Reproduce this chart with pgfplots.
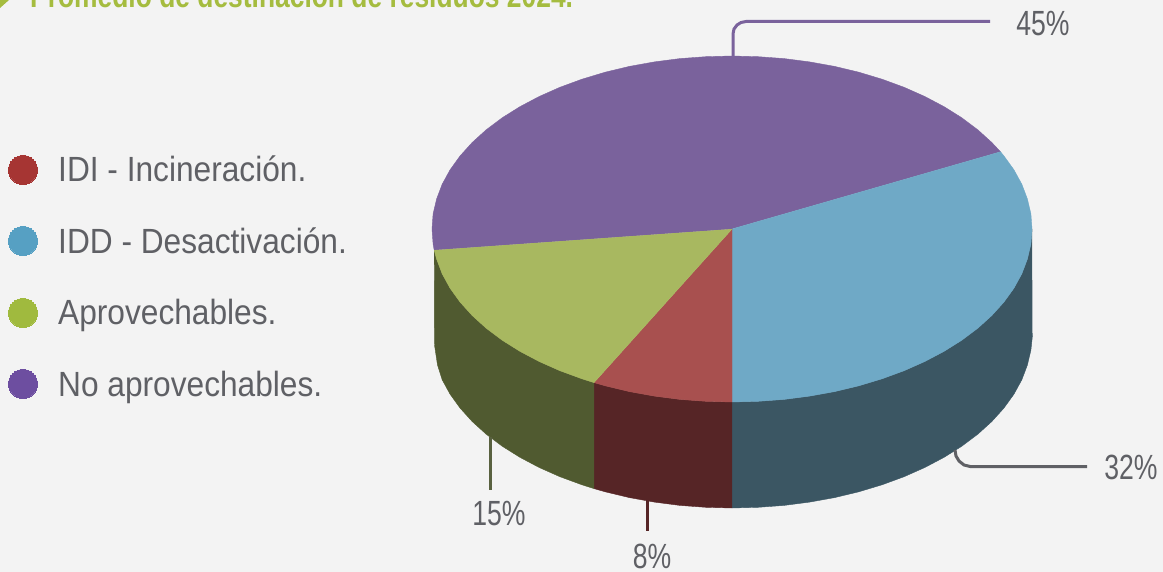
\documentclass[border=0pt]{standalone}
\usepackage{pgfplots}
\pgfplotsset{compat=1.18}
\usepackage{fontspec}
\setmainfont[FakeStretch=0.905]{Liberation Sans}
\newfontfamily\labf[FakeStretch=0.76]{Liberation Sans}
\newfontfamily\ttlf[FakeStretch=0.8]{Liberation Sans}
\definecolor{bgc}{HTML}{F3F3F3}
\definecolor{txt}{HTML}{5F6065}
\definecolor{ttl}{HTML}{A5BC3F}
\definecolor{topP}{HTML}{7A629C}
\definecolor{topB}{HTML}{6FA9C6}
\definecolor{topG}{HTML}{A8B860}
\definecolor{topR}{HTML}{A8504F}
\definecolor{sideB}{HTML}{3B5663}
\definecolor{sideR}{HTML}{562526}
\definecolor{sideG}{HTML}{505A30}
\definecolor{legR}{HTML}{A63533}
\definecolor{legB}{HTML}{56A0C3}
\definecolor{legG}{HTML}{A0BA3E}
\definecolor{legP}{HTML}{6D4EA0}
\tikzset{
  lab/.style={anchor=base, text=txt, font=\labf\fontsize{35}{40}\selectfont, inner sep=0pt},
  leg/.style={anchor=base west, text=txt, font=\fontsize{35}{40}\selectfont, inner sep=0pt},
}
\begin{document}
\begin{tikzpicture}
\begin{axis}[
  scale only axis, width=1163pt, height=572pt,
  xmin=0, xmax=1163, ymin=0, ymax=572, y dir=reverse,
  hide axis, clip mode=global,
]
\addplot[fill=bgc, draw=none] coordinates {(0,0)(1163,0)(1163,572)(0,572)};
% side walls
\addplot[fill=sideB, draw=sideB, line width=.4pt] coordinates {(1032,229)(1030.9,244.1)(1027.4,259)(1021.8,273.8)(1013.9,288.2)(1003.9,302.1)(991.8,315.5)(977.8,328.2)(961.8,340.2)(944.1,351.3)(924.8,361.5)(904.1,370.7)(882,378.8)(858.8,385.8)(834.6,391.6)(809.6,396.1)(784.1,399.4)(758.2,401.3)(732,402)(732,508)(758.2,507.3)(784.1,505.4)(809.6,502.1)(834.6,497.6)(858.8,491.8)(882,484.8)(904.1,476.7)(924.8,467.5)(944.1,457.3)(961.8,446.2)(977.8,434.2)(991.8,421.5)(1003.9,408.1)(1013.9,394.2)(1021.8,379.8)(1027.4,365)(1030.9,350.1)(1032.5,335)};
\addplot[fill=sideR, draw=sideR, line width=.4pt] coordinates {(732,402)(705.8,401.3)(679.9,399.4)(654.4,396.1)(629.4,391.6)(605.2,385.8)(594,382.6)(594,488.6)(605.2,491.8)(629.4,497.6)(654.4,502.1)(679.9,505.4)(705.8,507.3)(732,508)};
\addplot[fill=sideG, draw=sideG, line width=.4pt] coordinates {(594,382.6)(582,378.8)(559.9,370.7)(539.2,361.5)(519.9,351.3)(502.2,340.2)(486.2,328.2)(472.2,315.5)(460.1,302.1)(450.1,288.2)(442.2,273.8)(436.6,259)(434.2,250.1)(434.5,345)(437.5,365)(442.2,379.8)(450.1,394.2)(460.1,408.1)(472.2,421.5)(486.2,434.2)(502.2,446.2)(519.9,457.3)(539.2,467.5)(559.9,476.7)(582,484.8)(594,488.6)};
% top slices
\addplot[fill=topP, draw=topP, line width=.4pt] coordinates {(732,229)(434.2,250.1)(433.1,244.1)(432,229)(433.1,213.9)(436.6,199)(442.2,184.2)(450.1,169.8)(460.1,155.9)(472.2,142.5)(486.2,129.8)(502.2,117.8)(519.9,106.7)(539.2,96.5)(559.9,87.3)(582,79.2)(605.2,72.2)(629.4,66.4)(654.4,61.9)(679.9,58.6)(705.8,56.7)(732,56)(758.2,56.7)(784.1,58.6)(809.6,61.9)(834.6,66.4)(858.8,72.2)(882,79.2)(904.1,87.3)(924.8,96.5)(944.1,106.7)(961.8,117.8)(977.8,129.8)(991.8,142.5)(1000.5,151.8)};
\addplot[fill=topB, draw=topB, line width=.4pt] coordinates {(732,229)(1000.5,151.8)(1003.9,155.9)(1013.9,169.8)(1021.8,184.2)(1027.4,199)(1030.9,213.9)(1032,229)(1030.9,244.1)(1027.4,259)(1021.8,273.8)(1013.9,288.2)(1003.9,302.1)(991.8,315.5)(977.8,328.2)(961.8,340.2)(944.1,351.3)(924.8,361.5)(904.1,370.7)(882,378.8)(858.8,385.8)(834.6,391.6)(809.6,396.1)(784.1,399.4)(758.2,401.3)(732,402)};
\addplot[fill=topR, draw=topR, line width=.4pt] coordinates {(732,229)(732,402)(705.8,401.3)(679.9,399.4)(654.4,396.1)(629.4,391.6)(605.2,385.8)(594,382.6)};
\addplot[fill=topG, draw=topG, line width=.4pt] coordinates {(732,229)(594,382.6)(582,378.8)(559.9,370.7)(539.2,361.5)(519.9,351.3)(502.2,340.2)(486.2,328.2)(472.2,315.5)(460.1,302.1)(450.1,288.2)(442.2,273.8)(436.6,259)(434.2,250.1)};
% leader lines
\addplot[topP, line width=3pt] coordinates {(733,56)(733,34)(734,29)(737,25)(741,22.5)(746,21.5)(990,21.5)};
\addplot[txt, line width=3pt] coordinates {(955,450)(956,456)(959,461)(964,465)(971,466.7)(1087,466.7)};
\addplot[color=sideG!80!gray, line width=3pt] coordinates {(490.5,437)(490.5,490)};
\addplot[sideR, line width=3pt] coordinates {(647.5,500)(647.5,531)};
% legend markers
\addplot[only marks, mark=*, mark size=14.5pt, mark options={fill=legR, draw=legR, line width=0pt}] coordinates {(23,170)};
\addplot[only marks, mark=*, mark size=14.5pt, mark options={fill=legB, draw=legB, line width=0pt}] coordinates {(23,241)};
\addplot[only marks, mark=*, mark size=14.5pt, mark options={fill=legG, draw=legG, line width=0pt}] coordinates {(23,313)};
\addplot[only marks, mark=*, mark size=14.5pt, mark options={fill=legP, draw=legP, line width=0pt}] coordinates {(23,384)};
% title marker
\addplot[fill=ttl, draw=none] coordinates {(0,0)(9,0)(0,8)};
% texts
\node[overlay, anchor=base west, text=ttl, inner sep=0pt, font=\ttlf\fontsize{33}{38}\selectfont\bfseries] at (axis cs:30,8) {Promedio de destinación de residuos 2024.};
\node[leg] at (axis cs:58,182) {IDI - Incineración.};
\node[leg] at (axis cs:58,254) {IDD - Desactivación.};
\node[leg] at (axis cs:58,325) {Aprovechables.};
\node[leg] at (axis cs:58,396) {No aprovechables.};
\node[lab] at (axis cs:1043,36) {45\%};
\node[lab] at (axis cs:1131,479) {32\%};
\node[lab] at (axis cs:499,525) {15\%};
\node[lab] at (axis cs:652,568) {8\%};
\end{axis}
\end{tikzpicture}
\end{document}
